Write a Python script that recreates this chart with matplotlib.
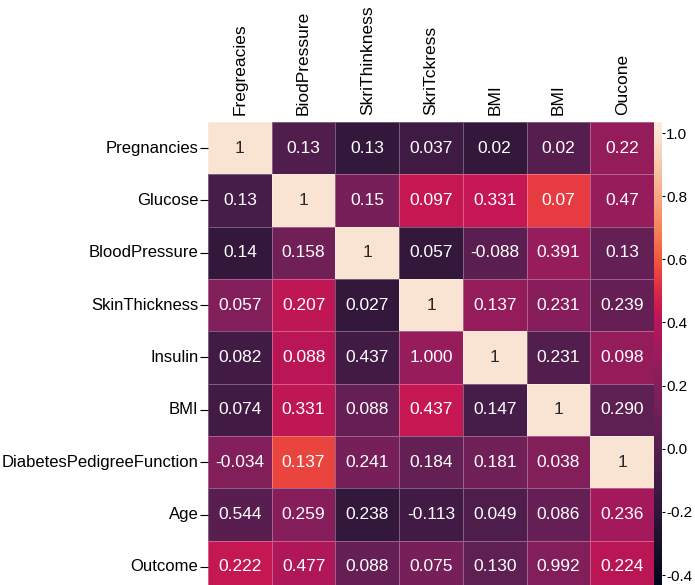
import numpy as np
import matplotlib
matplotlib.use("Agg")
import matplotlib.pyplot as plt
from matplotlib.colors import ListedColormap
import seaborn as sns

plt.rcParams['font.family'] = ['Liberation Sans', 'DejaVu Sans']
plt.rcParams['axes.unicode_minus'] = False

row_labels = ["Pregnancies", "Glucose", "BloodPressure", "SkinThickness", "Insulin",
              "BMI", "DiabetesPedigreeFunction", "Age", "Outcome"]
col_labels = ["Fregreacies", "BiodPressure", "SkriThinkness", "SkriTckress", "BMI", "BMI", "Oucone"]

# annotation texts as printed in cells
annot_text = [
    ["1", "0.13", "0.13", "0.037", "0.02", "0.02", "0.22"],
    ["0.13", "1", "0.15", "0.097", "0.331", "0.07", "0.47"],
    ["0.14", "0.158", "1", "0.057", "-0.088", "0.391", "0.13"],
    ["0.057", "0.207", "0.027", "1", "0.137", "0.231", "0.239"],
    ["0.082", "0.088", "0.437", "1.000", "1", "0.231", "0.098"],
    ["0.074", "0.331", "0.088", "0.437", "0.147", "1", "0.290"],
    ["-0.034", "0.137", "0.241", "0.184", "0.181", "0.038", "1"],
    ["0.544", "0.259", "0.238", "-0.113", "0.049", "0.086", "0.236"],
    ["0.222", "0.477", "0.088", "0.075", "0.130", "0.992", "0.224"],
]

# cell colour values
color_values = [
    [1.00, -0.02, -0.17, -0.11, -0.17, 0.01, 0.27],
    [-0.07, 1.00, 0.15, 0.44, 0.43, 0.54, 0.28],
    [-0.17, 0.13, 1.00, -0.17, 0.03, 0.28, 0.07],
    [0.20, 0.42, -0.17, 1.00, 0.27, 0.22, 0.08],
    [-0.09, 0.41, -0.09, 0.28, 1.00, -0.01, 0.27],
    [-0.09, 0.42, 0.08, 0.44, -0.07, 1.00, 0.05],
    [0.20, 0.56, 0.15, 0.07, 0.13, 0.20, 1.00],
    [0.02, 0.21, -0.17, -0.09, -0.03, 0.08, 0.33],
    [0.44, 0.37, 0.08, 0.15, 0.05, 0.20, 0.41],
]

cbar_ticks = [1.0, 0.8, 0.6, 0.4, 0.2, 0.0, -0.2, -0.4]

VMIN, VMAX = -0.457, 1.035
# colour scale as drawn in the reference bar (rocket, unevenly stretched)
rocket = sns.color_palette("rocket", as_cmap=True)
_sv = [VMIN, -0.4, -0.2, 0.0, 0.2, 0.4, 0.6, 0.8, 1.0, VMAX]
_st = [0.0, 0.02, 0.12, 0.22, 0.33, 0.45, 0.65, 0.83, 0.98, 1.0]
_x = np.linspace(VMIN, VMAX, 256)
cmap = ListedColormap(rocket(np.interp(_x, _sv, _st)))

W, H = 695, 585
fig = plt.figure(figsize=(W / 100, H / 100), dpi=100)
top, bot = 122, 593
left, right = 208, 654
ax = fig.add_axes([left / W, (H - bot) / H, (right - left) / W, (bot - top) / H])
cax = fig.add_axes([654 / W, (H - bot) / H, 8 / W, (bot - top) / H])

data = np.array(color_values)
sns.heatmap(data, ax=ax, cbar_ax=cax, cmap=cmap, vmin=VMIN, vmax=VMAX,
            annot=np.array(annot_text), fmt="", annot_kws={"fontsize": 12.5},
            linewidths=0.5, linecolor=(1, 1, 1, 0.3),
            xticklabels=col_labels, yticklabels=row_labels)

ax.xaxis.tick_top()
ax.set_xticklabels(col_labels, rotation=90, fontsize=12.5)
ax.set_yticklabels(row_labels, rotation=0, fontsize=12)
ax.tick_params(axis='x', length=0, pad=5)
ax.tick_params(axis='y', length=6, pad=1)

cax.set_yticks(cbar_ticks)
cax.set_yticklabels([f"{t:.1f}" for t in cbar_ticks])
cax.tick_params(labelsize=11, length=2.5, pad=0.5)
for s in cax.spines.values():
    s.set_visible(False)

fig.savefig("out.png", dpi=100)
